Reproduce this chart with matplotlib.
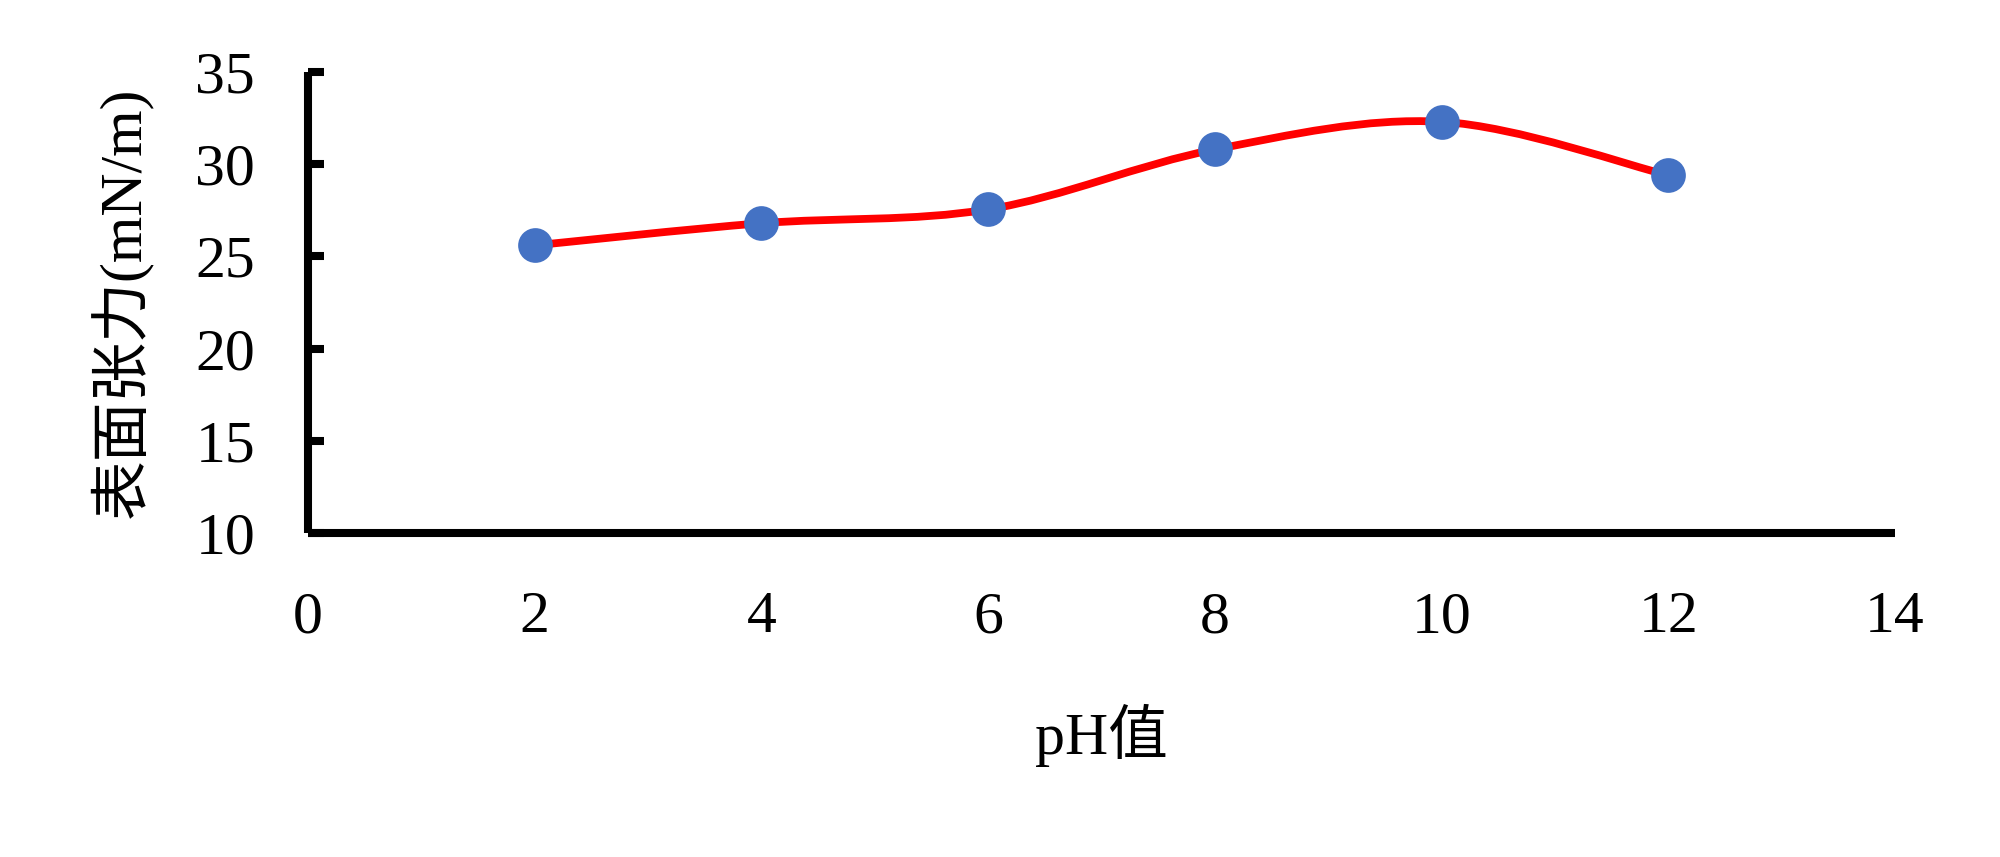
import numpy as np
import matplotlib
matplotlib.use("Agg")
import matplotlib.pyplot as plt
from matplotlib.path import Path
from matplotlib.patches import PathPatch

plt.rcParams['font.family'] = ['Liberation Serif', 'Noto Sans CJK SC']

ph = [2, 4, 6, 8, 10, 12]
tension = [25.6, 26.8, 27.55, 30.8, 32.3, 29.4]

x_label = 'pH值'
y_label = '表面张力(mN/m)'

fig = plt.figure(figsize=(10, 4.285), dpi=200)
ax = fig.add_axes([0.154, 0.378, 0.7935, 0.538])

# Excel-style smoothed line: cubic Bezier between points
pts = np.column_stack([ph, tension]).astype(float)
n = len(pts)
verts = [pts[0]]
codes = [Path.MOVETO]
for i in range(n - 1):
    p0 = pts[i - 1] if i > 0 else pts[i]
    p1 = pts[i]
    p2 = pts[i + 1]
    p3 = pts[i + 2] if i + 2 < n else pts[i + 1]
    c1 = p1 + (p2 - p0) / 6
    c2 = p2 - (p3 - p1) / 6
    verts += [c1, c2, p2]
    codes += [Path.CURVE4] * 3
curve = PathPatch(Path(verts, codes), facecolor='none', edgecolor='#FF0000',
                  lw=2.8, zorder=2, capstyle='round')
ax.add_patch(curve)

ax.plot(ph, tension, 'o', color='#4472C4', markersize=12.5, zorder=3,
        markeredgewidth=0)

ax.set_xlim(0, 14)
ax.set_ylim(10, 35)
ax.set_xticks(np.arange(0, 15, 2))
ax.set_yticks(np.arange(10, 36, 5))

for s in ['top', 'right']:
    ax.spines[s].set_visible(False)
for s in ['left', 'bottom']:
    ax.spines[s].set_linewidth(2.9)
    ax.spines[s].set_capstyle('butt')

ax.tick_params(axis='y', direction='in', length=5.8, width=2.9, pad=19,
               labelsize=21.5)
ax.tick_params(axis='x', length=0, pad=21, labelsize=21.5)

ax.set_xlabel(x_label, fontsize=21.5)
ax.set_ylabel(y_label, fontsize=21.5)
ax.xaxis.set_label_coords(0.5, -0.37)
ax.yaxis.set_label_coords(-0.098, 0.5)

fig.savefig('out.png', dpi=200)
